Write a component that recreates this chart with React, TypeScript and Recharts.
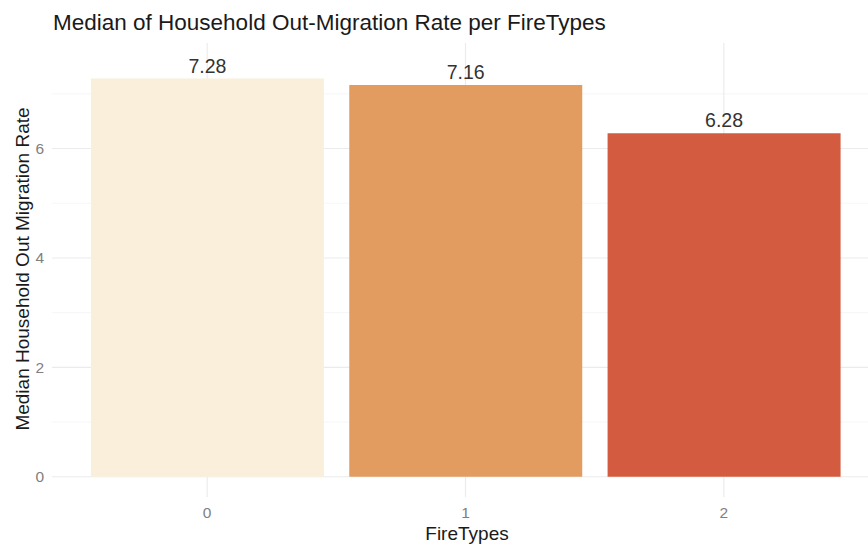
import { BarChart, Bar, XAxis, YAxis, CartesianGrid, Cell, LabelList } from 'recharts';

const fireTypes = ['0', '1', '2'];
const medianRates = [7.28, 7.16, 6.28];
const majorTicks = [0, 2, 4, 6];
const minorTicks = [1, 3, 5, 7];

const barColors = ['#FAEFDA', '#E39C60', '#D35B40'];
const font = '"Liberation Sans", Arial, sans-serif';
const yDomain: [number, number] = [-0.37, 7.93];

const data = fireTypes.map((t, i) => ({ type: t, rate: medianRates[i] }));

export default function App() {
  return (
    <div style={{ position: 'absolute', left: 0, top: 0, width: 868, height: 546, overflow: 'hidden', background: '#fff', fontFamily: font }}>
      <BarChart
        width={879}
        height={546}
        data={data}
        margin={{ top: 43, right: 0, bottom: 0, left: 0 }}
        barCategoryGap="5%"
      >
        <CartesianGrid stroke="#F2F2F2" strokeWidth={0.7} vertical={false} yAxisId="minor" syncWithTicks />
        <CartesianGrid stroke="#EBEBEB" strokeWidth={1.1} syncWithTicks />
        <XAxis
          dataKey="type"
          height={49}
          padding={{ left: 26, right: 26 }}
          axisLine={false}
          tickLine={false}
          tickMargin={4}
          tick={{ fill: '#7F7F7F', fontSize: 15.5, fontFamily: font }}
        />
        <YAxis
          type="number"
          width={52}
          domain={yDomain}
          ticks={majorTicks}
          allowDataOverflow
          axisLine={false}
          tickLine={false}
          tick={{ fill: '#7F7F7F', fontSize: 15.5, fontFamily: font }}
        />
        <YAxis yAxisId="minor" type="number" domain={yDomain} ticks={minorTicks} allowDataOverflow hide />
        <Bar dataKey="rate" isAnimationActive={false}>
          {data.map((d, i) => (
            <Cell key={d.type} fill={barColors[i]} />
          ))}
          <LabelList
            dataKey="rate"
            position="top"
            offset={6}
            fill="#333333"
            fontSize={19.5}
            fontFamily={font}
            formatter={(v: any) => Number(v).toFixed(2)}
          />
        </Bar>
      </BarChart>
      <svg width={868} height={546} style={{ position: 'absolute', left: 0, top: 0, pointerEvents: 'none' }}>
        <text x={53} y={30} fontSize={22.5} fill="#1A1A1A" fontFamily={font}>
          Median of Household Out-Migration Rate per FireTypes
        </text>
        <text x={467} y={540} fontSize={19} fill="#1A1A1A" fontFamily={font} textAnchor="middle">
          FireTypes
        </text>
        <text
          x={22}
          y={269}
          fontSize={19}
          fill="#1A1A1A"
          fontFamily={font}
          textAnchor="middle"
          dominantBaseline="central"
          transform="rotate(-90, 22, 269)"
        >
          Median Household Out Migration Rate
        </text>
      </svg>
    </div>
  );
}
